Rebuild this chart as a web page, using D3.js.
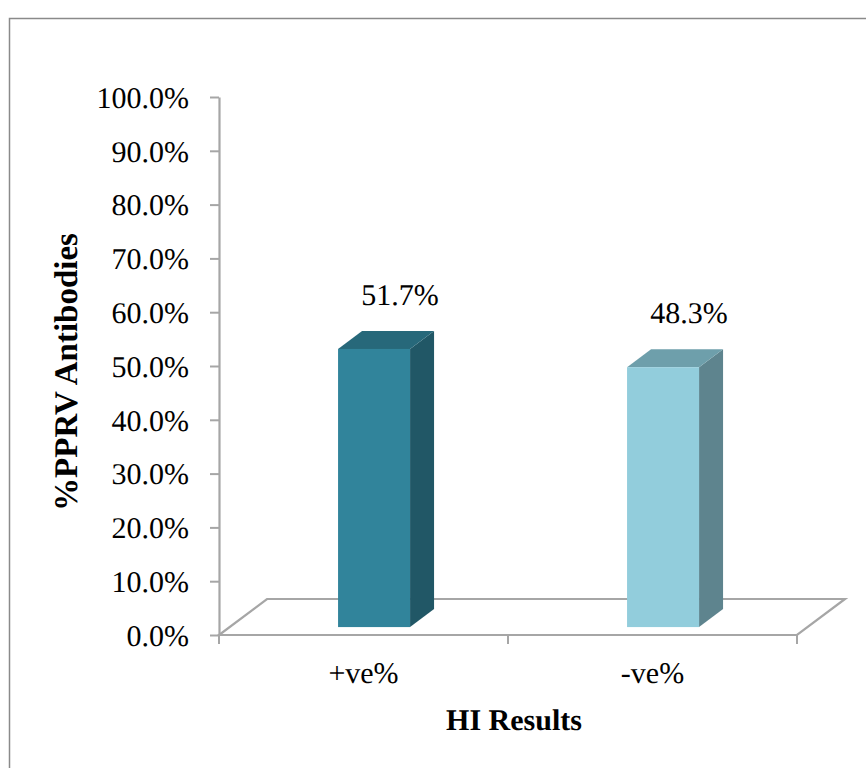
<!DOCTYPE html>
<html>
<head>
<meta charset="utf-8">
<script src="https://cdn.jsdelivr.net/npm/d3@7"></script>
<style>
  html, body { margin: 0; padding: 0; background: #fff; }
  svg { display: block; }
  text { font-family: "Liberation Serif", "Times New Roman", serif; fill: #000; text-rendering: geometricPrecision; }
</style>
</head>
<body>
<svg id="chart" width="866" height="768"></svg>
<script>
// HI test results: share of samples with PPRV antibodies
const categories = ["+ve%", "-ve%"];
const values = [0.517, 0.483];
const valueLabels = ["51.7%", "48.3%"];
const yTicks = [0, 0.1, 0.2, 0.3, 0.4, 0.5, 0.6, 0.7, 0.8, 0.9, 1.0];

const frontColors = ["#31849b", "#92cddc"];
const topColors   = ["#27687a", "#6e9fab"];
const sideColors  = ["#215766", "#5e848e"];

const svg = d3.select("#chart");

// plot geometry (front plane of the floor)
const x0 = 219, x1 = 797, yTop = 97, yBase = 635;
// depth vector of the 3D floor
const depth = { dx: 48, dy: -36 };
const barFront = 0.22, barBack = 0.72;

const x = d3.scaleBand().domain(categories).range([x0, x1]).paddingInner(0).paddingOuter(0);
const y = d3.scaleLinear().domain([0, 1]).range([yBase, yTop]);

// outer frame (left and top edges)
svg.append("path")
  .attr("d", "M9.5,768 L9.5,18.5 L866,18.5")
  .attr("fill", "none").attr("stroke", "#8a8a8a").attr("stroke-width", 1.5);

const axisColor = "#a6a6a6";

// floor outline
const fx = t => t * depth.dx, fy = t => t * depth.dy;
svg.append("path")
  .attr("d", `M${x0},${yBase} L${x1},${yBase} L${x1 + depth.dx},${yBase + depth.dy} L${x0 + depth.dx},${yBase + depth.dy} Z`)
  .attr("fill", "none").attr("stroke", axisColor).attr("stroke-width", 2.2);

// y axis
const yAxis = d3.axisLeft(y).tickValues(yTicks).tickFormat(d3.format(".1%"))
  .tickSize(9).tickSizeOuter(0).tickPadding(21);
const gy = svg.append("g").attr("transform", `translate(${x0},0)`).call(yAxis);
gy.attr("font-family", null).attr("font-size", null);
gy.select(".domain").attr("stroke", axisColor).attr("stroke-width", 2.2);
gy.selectAll(".tick line").attr("stroke", axisColor).attr("stroke-width", 2);
gy.selectAll(".tick text")
  .style("font-size", "30px").attr("fill", "#000").attr("dy", "0.34em");

// x axis ticks at category boundaries
const bounds = categories.map(c => x(c)).concat([x1]);
svg.append("g").selectAll("line").data(bounds).join("line")
  .attr("x1", d => d).attr("x2", d => d)
  .attr("y1", yBase).attr("y2", yBase + 9)
  .attr("stroke", axisColor).attr("stroke-width", 2);

// category labels
svg.append("g").selectAll("text").data(categories).join("text")
  .attr("x", d => x(d) + x.bandwidth() / 2)
  .attr("y", 683)
  .attr("text-anchor", "middle")
  .style("font-size", "30px")
  .text(d => d);

// 3D bars
const bw = 72;
const bars = svg.append("g").selectAll("g").data(categories).join("g");
bars.each(function (c, i) {
  const g = d3.select(this);
  const left = x(c) + (x.bandwidth() - bw) / 2 + fx(barFront);
  const right = left + bw;
  const bottom = yBase + fy(barFront);
  const top = y(values[i]) + fy(barFront);
  const ddx = fx(barBack - barFront), ddy = fy(barBack - barFront);
  // side face
  g.append("path")
    .attr("d", `M${right},${bottom} L${right},${top} L${right + ddx},${top + ddy} L${right + ddx},${bottom + ddy} Z`)
    .attr("fill", sideColors[i]);
  // top face
  g.append("path")
    .attr("d", `M${left},${top} L${right},${top} L${right + ddx},${top + ddy} L${left + ddx},${top + ddy} Z`)
    .attr("fill", topColors[i]);
  // front face
  g.append("rect")
    .attr("x", left).attr("y", top)
    .attr("width", bw).attr("height", bottom - top)
    .attr("fill", frontColors[i]);
  // value label, centered over the back of the bar
  g.append("text")
    .attr("x", left + ddx + bw / 2 + 2)
    .attr("y", top + ddy - 26)
    .attr("text-anchor", "middle")
    .style("font-size", "30px")
    .text(valueLabels[i]);
});

// axis titles
svg.append("text")
  .attr("x", (x0 + x1) / 2 + 6).attr("y", 730)
  .attr("text-anchor", "middle")
  .style("font-size", "30px").style("font-weight", "bold")
  .text("HI Results");

svg.append("text")
  .attr("transform", "translate(77,372) rotate(-90)")
  .attr("text-anchor", "middle")
  .style("font-size", "33px").style("font-weight", "bold")
  .text("%PPRV Antibodies");
</script>
</body>
</html>
